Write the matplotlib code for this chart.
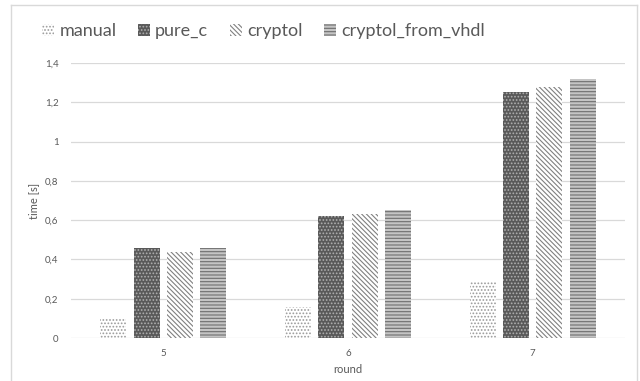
import matplotlib
matplotlib.use("Agg")
import matplotlib.pyplot as plt
from matplotlib.patches import Patch
from matplotlib.lines import Line2D
import numpy as np

plt.rcParams['font.family'] = ['Lato', 'DejaVu Sans']
plt.rcParams['hatch.linewidth'] = 0.8

# run times per round
rounds = ['5', '6', '7']
manual = [0.10, 0.16, 0.29]
pure_c = [0.46, 0.62, 1.25]
cryptol = [0.44, 0.63, 1.28]
cryptol_from_vhdl = [0.46, 0.65, 1.32]
yticks = [0, 0.2, 0.4, 0.6, 0.8, 1.0, 1.2, 1.4]
ytick_labels = ['0', '0,2', '0,4', '0,6', '0,8', '1', '1,2', '1,4']

series = [
    ('manual', manual, dict(facecolor='white', edgecolor='#9a9a9a', hatch='.....')),
    ('pure_c', pure_c, dict(facecolor='#595959', edgecolor='#b0b0b0', hatch='.....')),
    ('cryptol', cryptol, dict(facecolor='white', edgecolor='#808080', hatch='\\\\\\\\\\\\\\')),
    ('cryptol_from_vhdl', cryptol_from_vhdl, dict(facecolor='#c4c4c4', edgecolor='#6e6e6e', hatch='-----')),
]

fig = plt.figure(figsize=(6.4, 3.81), dpi=100)
ax = fig.add_axes([71/640, 1-338/381, (625-71)/640, (338-63)/381])

x = np.arange(len(rounds))
step = 0.181
width = 0.141
handles = []
for i, (name, vals, style) in enumerate(series):
    ax.bar(x + (i - 1.5)*step, vals, width, linewidth=0, zorder=3, **style)
    handles.append(Patch(label=name, linewidth=0, **style))

ax.set_xlim(-0.5, 2.5)
ax.set_ylim(0, 1.4)
ax.set_yticks(yticks)
ax.set_yticklabels(ytick_labels)
ax.set_xticks(x)
ax.set_xticklabels(rounds)
ax.tick_params(length=0, labelsize=7, colors='#595959', pad=9)
ax.tick_params(axis='x', pad=8)
ax.grid(axis='y', color='#d9d9d9', linewidth=0.9, zorder=0)
for s in ax.spines.values():
    s.set_visible(False)
ax.set_ylabel('time [s]', fontsize=8, color='#595959', labelpad=4)
ax.set_xlabel('round', fontsize=8, color='#595959', labelpad=4)

fig.legend(handles=handles, loc='center', bbox_to_anchor=(0.412, 1-31/381), ncol=4,
           frameon=False, fontsize=13, handlelength=0.65, handleheight=0.65,
           handletextpad=0.3, columnspacing=1.2, labelcolor='#595959')

# chart frame
frame = dict(color='#d9d9d9', linewidth=1.0, transform=fig.transFigure)
fig.add_artist(Line2D([11/640, 11/640], [0, 1-5/381], **frame))
fig.add_artist(Line2D([11/640, 637/640], [1-5/381, 1-5/381], **frame))
fig.add_artist(Line2D([637/640, 637/640], [0, 1-5/381], **frame))

fig.savefig('out.png', dpi=100)
